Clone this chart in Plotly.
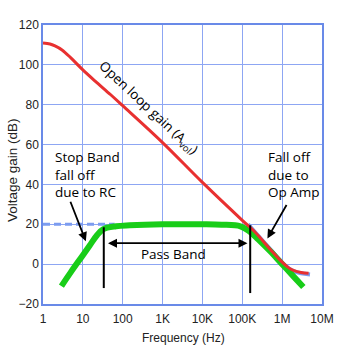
import plotly.graph_objects as go

# Open loop gain (red)
ol_freq = [1, 1.5, 2, 3, 5, 10, 20, 50, 100, 1e3, 1e4, 1e5, 2e5, 5e5, 1e6, 1.5e6, 2e6, 3e6, 4.6e6]
ol_gain = [111, 110.5, 109.5, 107.5, 103.5, 97.5, 92, 85, 79.5, 61, 41, 22, 16.5, 7.5, 1, -2, -3.3, -4.2, -4.6]

# Closed loop with op amp (blue, underneath)
cl_freq = [1.4e5, 2e5, 5e5, 1e6, 1.5e6, 2e6, 3e6, 5e6]
cl_gain = [20, 16.5, 7.5, 0.8, -2.3, -3.6, -4.6, -5.2]

# Ideal closed loop gain (blue dashed)
ideal_freq = [1, 63]
ideal_gain = [20, 20]

# Band pass response (green)
bp_freq = [2.9, 5, 10, 15, 22.6, 32, 68, 150, 1e3, 1e4, 3e4, 9e4, 1.5e5, 2.5e5, 5e5, 1e6, 2e6, 3.4e6]
bp_gain = [-11, -4, 4.5, 9.5, 14.5, 17.5, 19, 19.5, 20, 20, 19.8, 19, 16.5, 12.5, 6.5, 0, -6.5, -11.5]

x_tickvals = [1, 10, 100, 1e3, 1e4, 1e5, 1e6, 1e7]
x_ticktext = ["1", "10", "100", "1K", "10K", "100K", "1M", "10M"]
y_tickvals = [-20, 0, 20, 40, 60, 80, 100, 120]

cutoff_low = 33.5
cutoff_high = 1.58e5

GRID = "rgb(141,166,243)"
AXIS = "rgb(105,138,232)"
ANN_FONT = dict(family="Open Sans", size=13.5, color="black")
AX_FONT = dict(family="Liberation Sans", size=12, color="#222")

fig = go.Figure()
fig.add_trace(go.Scatter(x=ideal_freq, y=ideal_gain, mode="lines",
                         line=dict(color="rgb(124,156,240)", width=3, dash="7px,4px"),
                         hoverinfo="skip"))
fig.add_trace(go.Scatter(x=cl_freq, y=cl_gain, mode="lines", line_shape="spline",
                         line=dict(color="rgb(124,156,240)", width=4), hoverinfo="skip"))
fig.add_trace(go.Scatter(x=bp_freq, y=bp_gain, mode="lines", line_shape="spline",
                         line=dict(color="rgb(24,205,24)", width=6), hoverinfo="skip"))
fig.add_trace(go.Scatter(x=ol_freq, y=ol_gain, mode="lines", line_shape="spline",
                         line=dict(color="rgb(232,48,48)", width=3), hoverinfo="skip"))

# vertical cutoff lines
fig.add_shape(type="line", x0=cutoff_low, x1=cutoff_low, y0=18.5, y1=-12,
              xref="x", yref="y", line=dict(color="black", width=2))
fig.add_shape(type="line", x0=cutoff_high, x1=cutoff_high, y0=19.5, y1=-14.5,
              xref="x", yref="y", line=dict(color="black", width=2))

L, R, T, B = 43, 16, 25, 46
W, H = 338, 350
pw, ph = W - L - R, H - T - B

anns = [
    dict(x=53, y=146, text="Stop Band<br>fall off<br>due to RC",
         align="left", xanchor="left", yanchor="top", font=ANN_FONT),
    dict(x=266, y=146, text="Fall off<br>due to<br>Op Amp",
         align="left", xanchor="left", yanchor="top", font=ANN_FONT),
    dict(x=173.5, y=254, text="Pass Band", xanchor="center", yanchor="middle",
         font=ANN_FONT),
    dict(x=183, y=338, text="Frequency (Hz)", xanchor="center", yanchor="middle",
         font=AX_FONT),
    dict(x=12, y=170, text="Voltage gain (dB)", xanchor="center", yanchor="middle",
         textangle=-90, font=dict(family="Liberation Sans", size=13.5, color="#222")),
]
for a in anns:
    a["x"] = (a["x"] - L) / pw
    a["y"] = 1 - (a["y"] - T) / ph
    fig.add_annotation(xref="paper", yref="paper", showarrow=False, **a)

fig.add_annotation(x=2.64, y=78.5, text="Open loop gain (A<sub>vol</sub>)", showarrow=False,
                   textangle=43, font=ANN_FONT, xref="x", yref="y",
                   xanchor="center", yanchor="middle")

# arrows
fig.add_annotation(x=1.075, y=11.5, ax=-16, ay=-41, xref="x", yref="y",
                   showarrow=True, arrowhead=2, arrowsize=1, arrowwidth=1.8,
                   arrowcolor="black", text="")
fig.add_annotation(x=5.63, y=12.9, ax=20, ay=-35, xref="x", yref="y",
                   showarrow=True, arrowhead=2, arrowsize=1, arrowwidth=1.8,
                   arrowcolor="black", text="")
fig.add_annotation(x=5.13, y=10.5, ax=-141, ay=0, xref="x", yref="y",
                   showarrow=True, arrowhead=2, arrowsize=1, arrowwidth=1.8,
                   arrowside="end+start", arrowcolor="black", text="")

fig.update_xaxes(type="log", range=[0, 7], tickvals=x_tickvals, ticktext=x_ticktext,
                 showgrid=True, gridcolor=GRID, gridwidth=1,
                 showline=True, linecolor=AXIS, linewidth=1.5, mirror=True,
                 ticks="", zeroline=False, ticklabelstandoff=3, tickfont=AX_FONT)
fig.update_yaxes(range=[-20, 120], tickvals=y_tickvals,
                 showgrid=True, gridcolor=GRID, gridwidth=1,
                 showline=True, linecolor=AXIS, linewidth=1.5, mirror=True,
                 ticks="", zeroline=True, zerolinecolor=GRID, zerolinewidth=1,
                 tickfont=AX_FONT)

fig.update_layout(width=W, height=H, margin=dict(l=L, r=R, t=T, b=B, autoexpand=False),
                  plot_bgcolor="white", paper_bgcolor="white", showlegend=False)

fig.write_html("out.html", config={"displayModeBar": False})
